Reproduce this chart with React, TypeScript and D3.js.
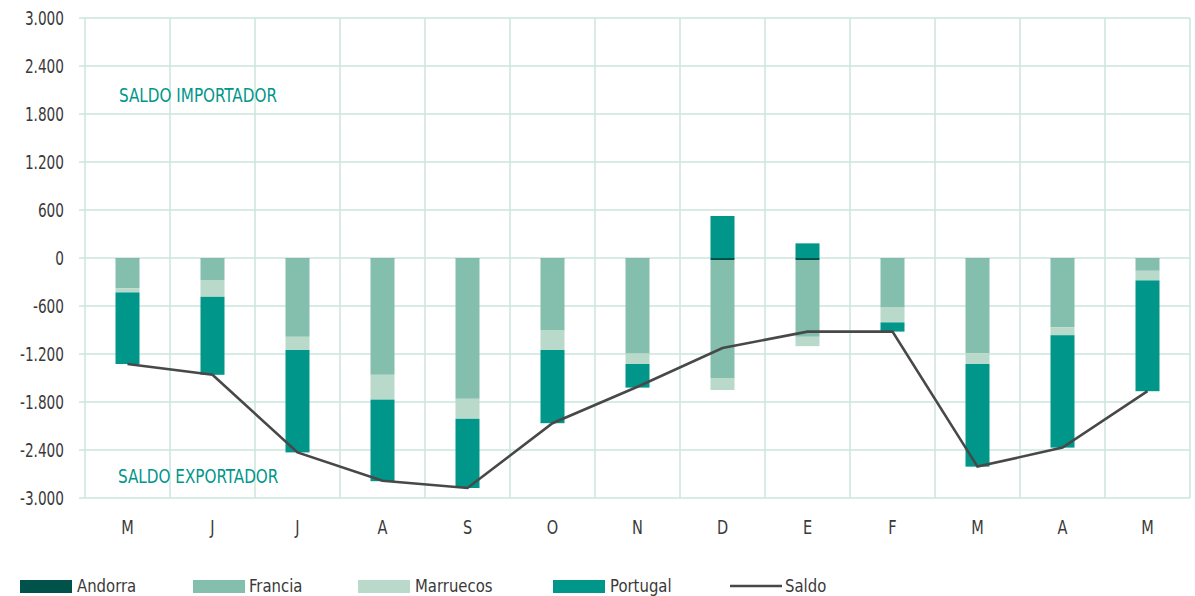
import React from "react";
import * as d3 from "d3";

const months = ["M", "J", "J", "A", "S", "O", "N", "D", "E", "F", "M", "A", "M"];
const andorra = [-5, -5, -5, -5, -5, -5, -5, -25, -25, -5, -5, -5, -5];
const francia = [-375, -270, -980, -1455, -1755, -895, -1190, -1475, -960, -615, -1185, -860, -155];
const marruecos = [-50, -210, -165, -310, -250, -250, -130, -150, -117, -185, -135, -100, -120];
const portugal = [-895, -975, -1280, -1020, -865, -915, -295, 525, 183, -115, -1283, -1405, -1385];
const saldo = [-1325, -1460, -2430, -2785, -2875, -2065, -1610, -1125, -920, -920, -2608, -2370, -1665];
const yTicks = [3000, 2400, 1800, 1200, 600, 0, -600, -1200, -1800, -2400, -3000];

const seriesKeys = ["Andorra", "Francia", "Marruecos", "Portugal"];
const seriesColors: Record<string, string> = {
  Andorra: "#00524a",
  Francia: "#84bfae",
  Marruecos: "#b9dacb",
  Portugal: "#00968a",
};

const FONT = "'Liberation Sans Narrow', 'DejaVu Sans Condensed', 'Roboto', sans-serif";

function NText(props: {
  x: number;
  y: number;
  sx: number;
  size: number;
  fill: string;
  anchor?: string;
  dy?: string;
  children: React.ReactNode;
}) {
  return (
    <g transform={`translate(${props.x},${props.y}) scale(${props.sx},1)`}>
      <text x={0} y={0} dy={props.dy} textAnchor={props.anchor || "start"} fontSize={props.size} fill={props.fill}>
        {props.children}
      </text>
    </g>
  );
}

export default function App() {
  const W = 1195;
  const H = 596;
  const left = 85;
  const right = 1190;
  const top = 18;
  const bottom = 498;

  const x = d3.scaleBand<number>().domain(months.map((_, i) => i)).range([left, right]).padding(0);
  const y = d3.scaleLinear().domain([-3000, 3000]).range([bottom, top]);
  const barW = 24;

  const rows = months.map((m, i) => ({
    Andorra: andorra[i],
    Francia: francia[i],
    Marruecos: marruecos[i],
    Portugal: portugal[i],
  }));
  const stacked = d3.stack<any>().keys(seriesKeys).offset(d3.stackOffsetDiverging)(rows);

  const loc = d3.formatLocale({ decimal: ",", thousands: ".", grouping: [3], currency: ["", "€"], minus: "-" });
  const fmt = loc.format(",d");

  const line = d3
    .line<number>()
    .x((_, i) => (x(i) as number) + x.bandwidth() / 2)
    .y((d) => y(d));

  const gridColor = "#cde5dc";

  const legendItems = [
    { name: "Andorra", x: 20, tx: 77, type: "rect" },
    { name: "Francia", x: 193, tx: 249, type: "rect" },
    { name: "Marruecos", x: 358, tx: 415, type: "rect" },
    { name: "Portugal", x: 553, tx: 610, type: "rect" },
    { name: "Saldo", x: 730, tx: 785, type: "line" },
  ];

  return (
    <svg width={W} height={H} style={{ position: "absolute", left: 0, top: 0, background: "#fff" }} fontFamily={FONT}>
      {yTicks.map((t) => (
        <line key={"h" + t} x1={79} x2={right} y1={y(t)} y2={y(t)} stroke={gridColor} strokeWidth={1.5} />
      ))}
      {d3.range(months.length + 1).map((i) => {
        const xx = left + i * x.step();
        return <line key={"v" + i} x1={xx} x2={xx} y1={top} y2={bottom} stroke={gridColor} strokeWidth={1.5} />;
      })}
      {yTicks.map((t) => (
        <NText key={"t" + t} x={64} y={y(t)} sx={0.8} dy="0.35em" anchor="end" size={19} fill="#3a3a3a">
          {fmt(t)}
        </NText>
      ))}
      {months.map((m, i) => (
        <NText key={"x" + i} x={(x(i) as number) + x.bandwidth() / 2} y={527} sx={0.85} dy="0.35em" anchor="middle" size={19} fill="#3a3a3a">
          {m}
        </NText>
      ))}
      {stacked.map((s) => (
        <g key={s.key} fill={seriesColors[s.key]}>
          {s.map((d, i) => {
            const y0 = y(d[0]);
            const y1 = y(d[1]);
            return (
              <rect
                key={i}
                x={(x(i) as number) + x.bandwidth() / 2 - barW / 2}
                y={Math.min(y0, y1)}
                width={barW}
                height={Math.abs(y1 - y0)}
              />
            );
          })}
        </g>
      ))}
      <path d={line(saldo) || ""} fill="none" stroke="#484848" strokeWidth={2.6} />
      <NText x={119} y={102} sx={0.89} size={19} fill="#00968a">SALDO IMPORTADOR</NText>
      <NText x={118} y={483} sx={0.89} size={19} fill="#00968a">SALDO EXPORTADOR</NText>
      {legendItems.map((it) => (
        <g key={it.name}>
          {it.type === "rect" ? (
            <rect x={it.x} y={580} width={52} height={13} fill={seriesColors[it.name]} />
          ) : (
            <line x1={it.x} x2={it.x + 52} y1={586} y2={586} stroke="#484848" strokeWidth={2.6} />
          )}
          <NText x={it.tx} y={586} sx={0.92} dy="0.35em" size={18} fill="#3a3a3a">
            {it.name}
          </NText>
        </g>
      ))}
    </svg>
  );
}
